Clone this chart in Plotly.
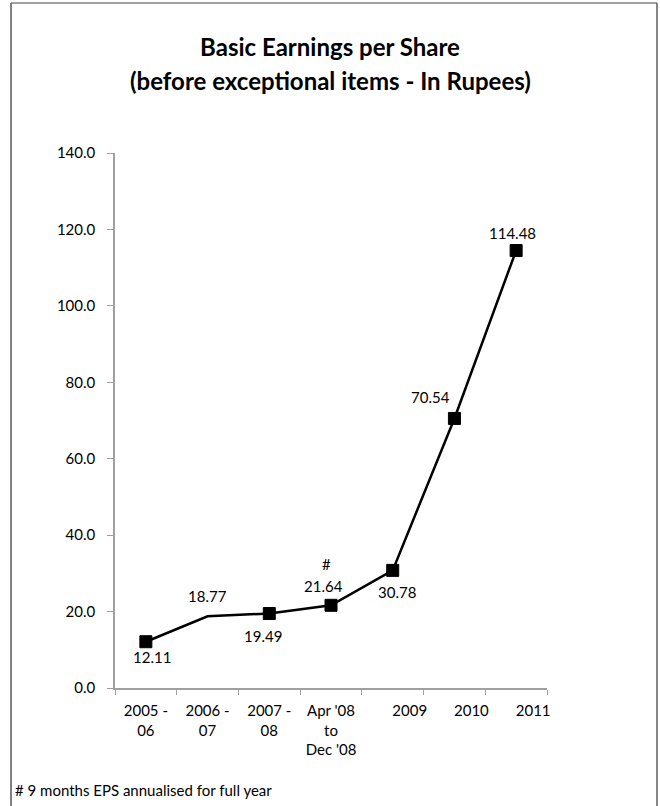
import plotly.graph_objects as go

# Basic EPS (before exceptional items), in Rupees
periods = ["2005 - 06", "2006 - 07", "2007 - 08", "Apr '08 to Dec '08", "2009", "2010", "2011"]
tick_labels = [
    "2005 -<br>06",
    "2006 -<br>07",
    "2007 -<br>08",
    "Apr '08<br>to<br>Dec '08",
    "2009",
    "2010",
    "2011",
]
eps = [12.11, 18.77, 19.49, 21.64, 30.78, 70.54, 114.48]
y_ticks = [0, 20, 40, 60, 80, 100, 120, 140]
footnote = "# 9 months EPS annualised for full year"

# category positions on the x axis and the boundaries between them
pos = list(range(len(periods)))
bounds = [i - 0.5 for i in range(len(periods) + 1)]
n_split = 4  # the calendar-year labels sit a little right of their points

# per-point marker size (the 2006-07 point is drawn without a marker)
marker_sizes = [12, 0, 12, 12, 12, 12, 12]
# data-label offsets in pixels (x, y)
label_offsets = [(6, -15), (0, 20), (-6, -22), (-8, 19), (4, -22), (-24, 21), (-4, 18)]

FONT = "Lato, 'Open Sans', sans-serif"
FS = 15

fig = go.Figure()
fig.add_trace(go.Scatter(
    x=pos,
    y=eps,
    customdata=periods,
    mode="lines+markers",
    line=dict(color="black", width=2.5),
    marker=dict(symbol="square", size=marker_sizes, color="black",
                line=dict(color="black", width=1), opacity=1),
    hovertemplate="%{customdata}: %{y:.2f}<extra></extra>",
    showlegend=False,
))
# invisible traces on the overlay axes (boundary ticks, calendar-year labels)
for ax in ("x2", "x3"):
    fig.add_trace(go.Scatter(
        x=[bounds[0], bounds[-1]], y=[0, 0], xaxis=ax, mode="lines",
        line=dict(width=0), hoverinfo="skip", showlegend=False,
    ))

annotations = []
for p, v, (dx, dy) in zip(pos, eps, label_offsets):
    annotations.append(dict(
        x=p, y=v, xref="x", yref="y", text=f"{v:.2f}", showarrow=False,
        xshift=dx, yshift=dy, font=dict(family=FONT, size=FS, color="black"),
    ))
# footnote marker above the 9-month period
annotations.append(dict(
    x=pos[3], y=eps[3], xref="x", yref="y", text="#", showarrow=False,
    xshift=-5, yshift=41, font=dict(family=FONT, size=FS, color="black"),
))
# second title line
annotations.append(dict(
    x=0.4977, y=(688 - 81) / 535, xref="paper", yref="paper", xanchor="center", yanchor="middle",
    text="<b>(before exceptional items - In Rupees)</b>", showarrow=False,
    font=dict(family=FONT, size=24, color="black"),
))
annotations.append(dict(
    x=-0.236, y=(688 - 790) / 535, xref="paper", yref="paper", xanchor="left", yanchor="middle",
    text=footnote, showarrow=False, font=dict(family=FONT, size=FS, color="black"),
))

# frame around the chart
shapes = [
    dict(type="line", xref="paper", yref="paper", x0=-0.2407, x1=1.2546, y0=1.2804, y1=1.2804,
         line=dict(color="#404040", width=1.2)),
    dict(type="line", xref="paper", yref="paper", x0=-0.2407, x1=-0.2407, y0=1.2804, y1=-0.25,
         line=dict(color="#808080", width=2)),
    dict(type="line", xref="paper", yref="paper", x0=1.2546, x1=1.2546, y0=1.2804, y1=-0.25,
         line=dict(color="#606060", width=1.5)),
]

xrange = [bounds[0], bounds[-1]]
label_axis = dict(
    range=xrange, tickmode="array", tickangle=0, ticks="", showline=False,
    showgrid=False, zeroline=False, ticklabelstandoff=12,
    tickfont=dict(family=FONT, size=FS, color="black"),
)
fig.update_layout(
    width=660, height=806,
    margin=dict(l=115, r=113, t=153, b=118),
    paper_bgcolor="white", plot_bgcolor="white",
    font=dict(family=FONT, size=FS, color="black"),
    title=dict(text="<b>Basic Earnings per Share</b>", x=0.5, xanchor="center",
               y=1 - 48 / 806, yanchor="middle", yref="container",
               font=dict(family=FONT, size=24, color="black")),
    annotations=annotations,
    shapes=shapes,
    xaxis=dict(label_axis, tickvals=pos[:n_split], ticktext=tick_labels[:n_split]),
    xaxis3=dict(label_axis, tickvals=pos[n_split:], ticktext=tick_labels[n_split:],
                overlaying="x", anchor="y", side="bottom", matches="x", ticklabelshift=17),
    xaxis2=dict(
        overlaying="x", anchor="y", side="bottom", matches="x", range=xrange,
        tickmode="array", tickvals=bounds, showticklabels=False,
        ticks="outside", ticklen=5, tickcolor="#a0a0a0", tickwidth=1.2,
        showline=True, linecolor="#a0a0a0", linewidth=1.5,
        showgrid=False, zeroline=False,
    ),
    yaxis=dict(
        range=[0, 140], tickmode="array", tickvals=y_ticks, tickformat=".1f",
        ticks="outside", ticklen=6, tickcolor="#a0a0a0", tickwidth=1.2,
        showline=True, linecolor="#a0a0a0", linewidth=1.5,
        showgrid=False, zeroline=False, ticklabelstandoff=9,
        tickfont=dict(family=FONT, size=FS, color="black"),
    ),
)

fig.write_html("out.html")
